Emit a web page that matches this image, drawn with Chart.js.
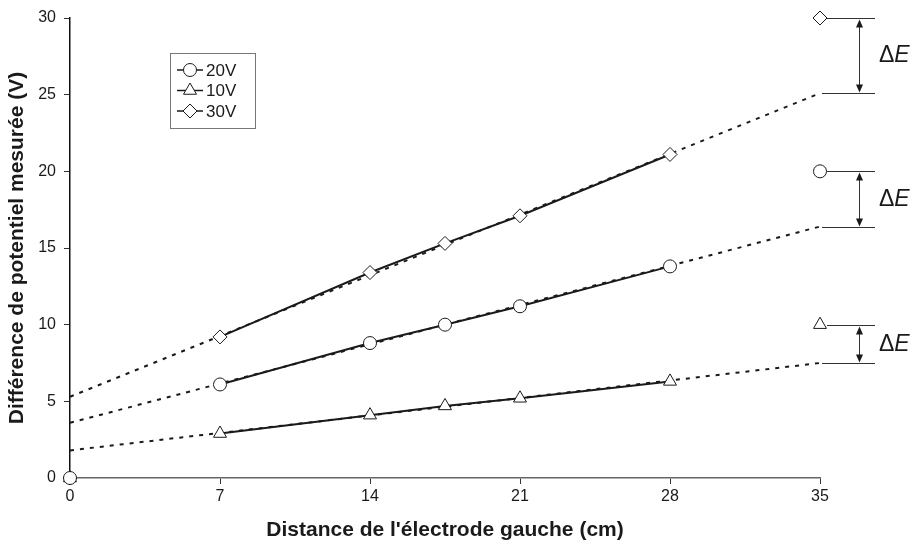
<!DOCTYPE html>
<html lang="fr">
  <head>
    <meta charset="UTF-8" />
    <title>Différence de potentiel</title>
    <style>
      html, body { margin: 0; padding: 0; background: #fff; }
      .wrap { width: 915px; height: 548px; position: relative; }
    </style>
  </head>
  <body>
    <div class="wrap">
      <canvas id="chart"></canvas>
    </div>
    <script src="https://cdn.jsdelivr.net/npm/chart.js"></script>
    <script>
      // measured points (cm, V)
      const distances = [7, 14, 17.5, 21, 28];
      const v20 = [6.1, 8.8, 10.0, 11.2, 13.8];
      const v10 = [2.9, 4.1, 4.7, 5.2, 6.3];
      const v30 = [9.2, 13.4, 15.3, 17.1, 21.1];

      const seriesLabels = ["20V", "10V", "30V"];
      const seriesStyles = ["circle", "triangle", "rectRot"];
      const seriesRadius = [6.5, 7.5, 7];
      const seriesValues = [v20, v10, v30];

      // applied voltage, plotted at the right electrode
      const electrodeX = 35;
      const appliedVoltages = [20, 10, 30];
      // linear fits, from left to right electrode
      const trendStart = [3.6, 1.8, 5.3];
      const trendEnd = [16.4, 7.5, 25.1];

      const FONT = "'Liberation Sans', Arial, sans-serif";
      const INK = "#1a1a1a";

      const datasets = [];
      seriesLabels.forEach((label, i) => {
        datasets.push({
          label: label + " fit",
          data: [
            { x: 0, y: trendStart[i] },
            { x: electrodeX, y: trendEnd[i] },
          ],
          showLine: true,
          borderColor: INK,
          borderWidth: 2,
          borderDash: [4, 6],
          pointRadius: 0,
          clip: false,
          order: 3,
        });
        datasets.push({
          label: label,
          data: distances.map((d, k) => ({ x: d, y: seriesValues[i][k] })),
          showLine: true,
          borderColor: INK,
          borderWidth: 2,
          pointStyle: seriesStyles[i],
          pointRadius: seriesRadius[i],
          pointBackgroundColor: "#fff",
          pointBorderColor: INK,
          pointBorderWidth: 1,
          clip: false,
          order: 1,
        });
        datasets.push({
          label: label + " ends",
          data: [
            { x: 0, y: 0 },
            { x: electrodeX, y: appliedVoltages[i] },
          ],
          showLine: false,
          pointStyle: seriesStyles[i],
          pointRadius: seriesRadius[i],
          pointBackgroundColor: "#fff",
          pointBorderColor: INK,
          pointBorderWidth: 1,
          clip: false,
          order: 2,
        });
      });

      function marker(ctx, style, r, x, y) {
        ctx.save();
        ctx.fillStyle = "#fff";
        ctx.strokeStyle = INK;
        ctx.lineWidth = 1;
        Chart.helpers.drawPoint(
          ctx,
          { pointStyle: style, radius: r, rotation: 0, borderWidth: 1 },
          x,
          y
        );
        ctx.restore();
      }

      const legendBox = {
        id: "legendBox",
        afterDraw(chart) {
          const ctx = chart.ctx;
          ctx.save();
          ctx.strokeStyle = "#777";
          ctx.lineWidth = 1;
          ctx.strokeRect(170.5, 53.5, 85, 75);
          ctx.font = "17px " + FONT;
          ctx.textBaseline = "middle";
          ctx.fillStyle = INK;
          seriesLabels.forEach((label, i) => {
            const y = 70 + i * 20.5;
            ctx.beginPath();
            ctx.strokeStyle = INK;
            ctx.lineWidth = 1.5;
            ctx.moveTo(177, y);
            ctx.lineTo(203, y);
            ctx.stroke();
            marker(ctx, seriesStyles[i], seriesRadius[i], 190, y);
            ctx.fillStyle = INK;
            ctx.fillText(label, 206, y + 1);
          });
          ctx.restore();
        },
      };

      const deltaE = {
        id: "deltaE",
        afterDraw(chart) {
          const { ctx, scales } = chart;
          const x0 = scales.x.getPixelForValue(electrodeX);
          ctx.save();
          appliedVoltages.forEach((v, i) => {
            const yTop = Math.round(scales.y.getPixelForValue(v)) + 0.5;
            const yBot = Math.round(scales.y.getPixelForValue(trendEnd[i])) + 0.5;
            ctx.strokeStyle = "#333";
            ctx.lineWidth = 1;
            ctx.beginPath();
            ctx.moveTo(x0 + 7, yTop);
            ctx.lineTo(x0 + 55, yTop);
            ctx.moveTo(x0 + 2, yBot);
            ctx.lineTo(x0 + 55, yBot);
            const ax = x0 + 39.5;
            ctx.moveTo(ax, yTop + 6);
            ctx.lineTo(ax, yBot - 6);
            ctx.stroke();
            ctx.fillStyle = INK;
            ctx.beginPath();
            ctx.moveTo(ax, yTop + 1);
            ctx.lineTo(ax - 3.5, yTop + 9);
            ctx.lineTo(ax + 3.5, yTop + 9);
            ctx.closePath();
            ctx.moveTo(ax, yBot - 1);
            ctx.lineTo(ax - 3.5, yBot - 9);
            ctx.lineTo(ax + 3.5, yBot - 9);
            ctx.closePath();
            ctx.fill();
            const ym = (yTop + yBot) / 2;
            ctx.textBaseline = "middle";
            ctx.font = "23px " + FONT;
            ctx.fillText("\u0394", x0 + 59, ym);
            const w = ctx.measureText("\u0394").width;
            ctx.font = "italic 23px " + FONT;
            ctx.fillText("E", x0 + 59 + w, ym);
          });
          ctx.restore();
        },
      };

      new Chart(document.getElementById("chart"), {
        type: "scatter",
        data: { datasets },
        plugins: [legendBox, deltaE],
        options: {
          responsive: true,
          maintainAspectRatio: false,
          animation: false,
          layout: { padding: { top: 18, right: 95, bottom: 0, left: 0 } },
          plugins: {
            legend: { display: false },
            tooltip: { enabled: false },
          },
          scales: {
            x: {
              type: "linear",
              min: 0,
              max: electrodeX,
              afterFit: (s) => { s.height = 70; },
              border: { color: "#666", width: 1.5 },
              grid: { drawOnChartArea: false, color: "#333", tickLength: 6 },
              ticks: {
                stepSize: 7,
                color: INK,
                padding: 3,
                font: { family: FONT, size: 16 },
              },
              title: {
                display: true,
                text: "Distance de l'électrode gauche (cm)",
                color: INK,
                font: { family: FONT, size: 21, weight: "bold" },
                padding: { top: 4, bottom: 5 },
              },
            },
            y: {
              min: 0,
              max: 30,
              afterFit: (s) => { s.width = 70; },
              border: { color: "#111", width: 1.5 },
              grid: { drawOnChartArea: false, color: "#333", tickLength: 6 },
              ticks: {
                stepSize: 5,
                color: INK,
                padding: 8,
                font: { family: FONT, size: 16 },
              },
              title: {
                display: true,
                text: "Différence de potentiel mesurée (V)",
                color: INK,
                font: { family: FONT, size: 21, weight: "bold" },
                padding: { top: 5, bottom: 4 },
              },
            },
          },
        },
      });
    </script>
  </body>
</html>
